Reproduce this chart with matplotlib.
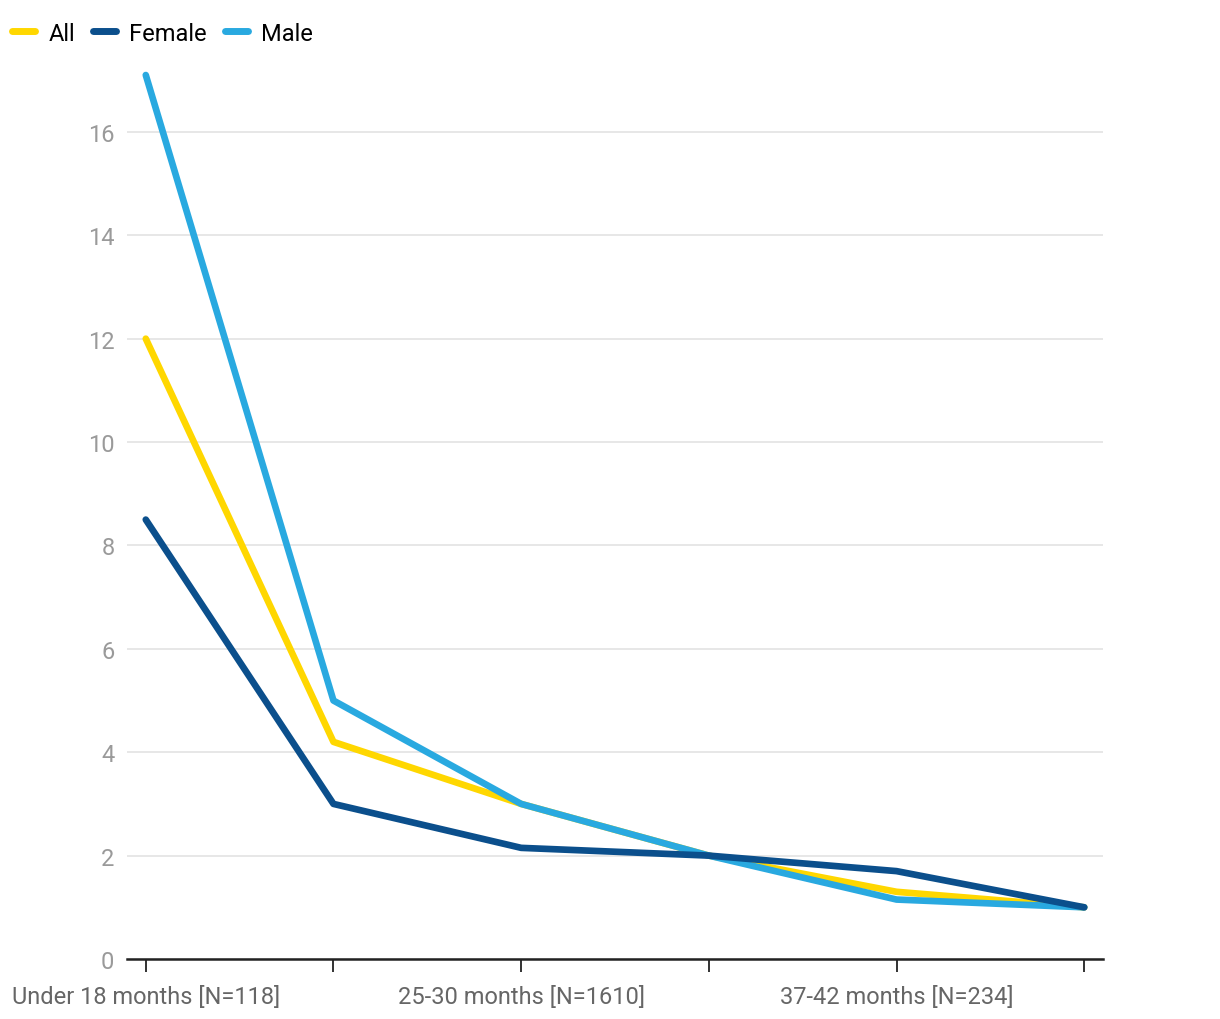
import matplotlib
matplotlib.use("Agg")
from matplotlib import pyplot as plt
from matplotlib.lines import Line2D

plt.rcParams['font.family'] = ['Roboto', 'DejaVu Sans']

categories = ["Under 18 months [N=118]", "19-24 months", "25-30 months [N=1610]",
              "31-36 months", "37-42 months [N=234]", "43-48 months"]
shown_labels = [True, False, True, False, True, False]
all_vals = [12.0, 4.2, 3.0, 2.0, 1.3, 1.0]
female_vals = [8.5, 3.0, 2.15, 2.0, 1.7, 1.0]
male_vals = [17.1, 5.0, 3.0, 2.0, 1.15, 1.0]

c_all = "#FFD700"
c_female = "#0B4F8C"
c_male = "#29A9E0"

fig = plt.figure(figsize=(12.2, 10.2), dpi=100)
ax = fig.add_axes([127 / 1220, 1 - 960 / 1020, (1103 - 127) / 1220, 900 / 1020])

x = list(range(len(categories)))
lw = 4.8
ax.plot(x, all_vals, color=c_all, lw=lw, solid_capstyle="round", solid_joinstyle="round", zorder=3)
ax.plot(x, male_vals, color=c_male, lw=lw, solid_capstyle="round", solid_joinstyle="round", zorder=4)
ax.plot(x, female_vals, color=c_female, lw=lw, solid_capstyle="round", solid_joinstyle="round", zorder=5)

ax.set_xlim(-0.1, 5.0 + 0.1)
ax.set_ylim(0, 17.41)
ax.set_yticks(range(0, 17, 2))
ax.set_xticks(x)
ax.set_xticklabels([c if s else "" for c, s in zip(categories, shown_labels)])

ax.grid(axis="y", color="#e3e3e3", lw=1.2)
ax.set_axisbelow(True)
for s in ["top", "right", "left"]:
    ax.spines[s].set_visible(False)
ax.spines["bottom"].set_color("#222222")
ax.spines["bottom"].set_linewidth(1.8)
ax.tick_params(axis="y", length=0, pad=9, labelsize=17, labelcolor="#9a9a9a")
ax.tick_params(axis="x", length=9, width=1.3, color="#222222", pad=10, labelsize=17, labelcolor="#666666")

handles = [Line2D([], [], color=c, lw=5, solid_capstyle="round") for c in (c_all, c_female, c_male)]
fig.legend(handles, ["All", "Female", "Male"], loc="upper left", bbox_to_anchor=(-0.004, 0.994),
           ncol=3, frameon=False, fontsize=17, handlelength=1.0, handletextpad=0.55, columnspacing=0.75,
           borderaxespad=0.3)

fig.savefig("out.png", dpi=100)
